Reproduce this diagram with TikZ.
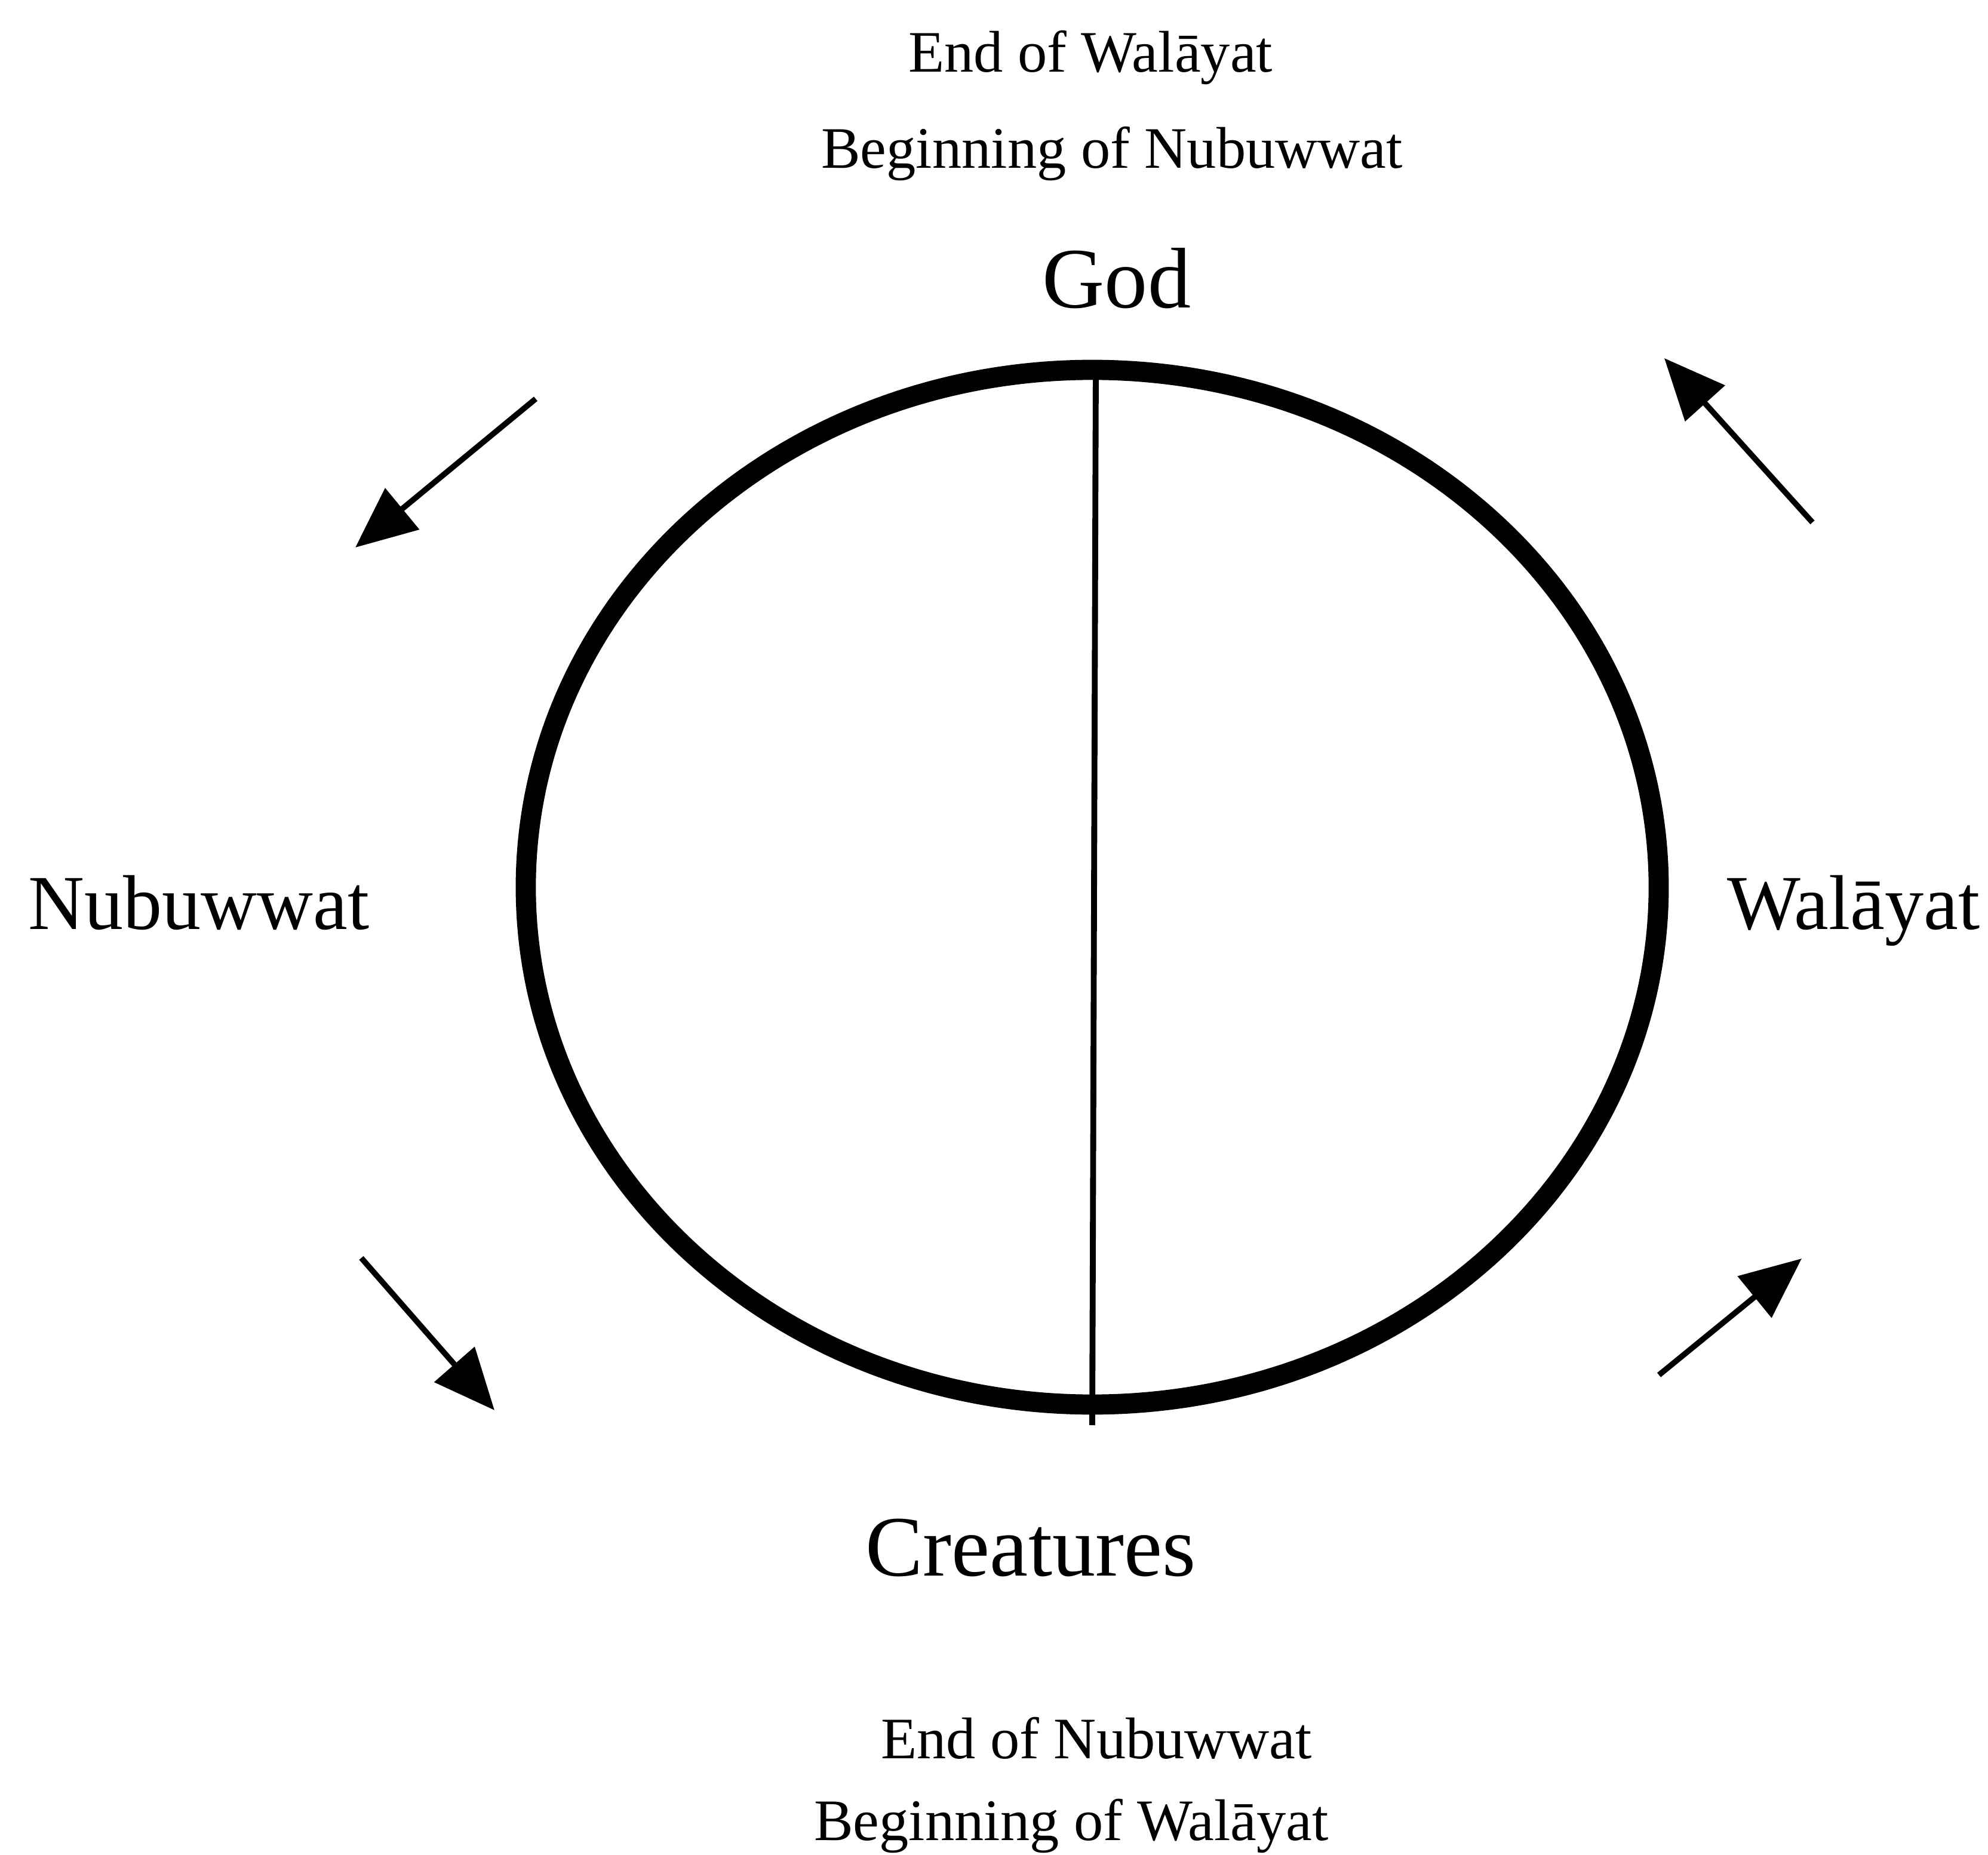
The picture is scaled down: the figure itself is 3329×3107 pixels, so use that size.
\documentclass[tikz,border=0pt]{standalone}
\usepackage{fontspec}
\setmainfont{Liberation Serif}
\usetikzlibrary{arrows.meta,shapes.geometric}
\tikzstyle{caption} = [
  font=\fontsize{28}{34}\selectfont,
  inner sep=0pt,
  anchor=base,
]
\tikzstyle{pole} = [
  font=\fontsize{41}{48}\selectfont,
  inner sep=0pt,
  anchor=base,
]
\tikzstyle{side} = [
  font=\fontsize{37}{44}\selectfont,
  inner sep=0pt,
  anchor=base,
]
\tikzstyle{ring} = [
  draw,
  ellipse,
  line width=9.6pt,
  inner sep=0pt,
  minimum width=18.96cm,
  minimum height=17.32cm,
]
\tikzstyle{divider} = [
  line width=2.8pt,
]
\tikzstyle{flow} = [
  line width=2.7pt,
  -{Triangle[length=29pt,width=25pt]},
]

\begin{document}
\begin{tikzpicture}[
    x=0.01cm,
    y=-0.01cm,
  ]
  \useasboundingbox (0,0) rectangle (3329,3107);
  \node[caption] (endwal) at (1826,121) {End of Walāyat};
  \node[caption] (begnub) at (1862,282) {Beginning of Nubuwwat};
  \node[pole] (god) at (1870,516) {God};
  \node[side] (nub) at (333,1556) {Nubuwwat};
  \node[side] (wal) at (3104,1556) {Walāyat};
  \node[pole] (creat) at (1726,2639) {Creatures};
  \node[caption] (endnub) at (1836,2945) {End of Nubuwwat};
  \node[caption] (begwal) at (1794,3082) {Beginning of Walāyat};
  % the circle and its diameter
  \node[ring] (ring) at (1829,1486) {};
  \coordinate (top) at (1835,620);
  \coordinate (bot) at (1829,2387);
  \draw[divider] (top) -- (bot);
  % arrows round the circle
  \coordinate (nwtail) at (897,668);
  \coordinate (nwhead) at (595,917);
  \coordinate (swtail) at (605,2107);
  \coordinate (swhead) at (828,2362);
  \coordinate (setail) at (2778,2303);
  \coordinate (sehead) at (3017,2108);
  \coordinate (netail) at (3035,875);
  \coordinate (nehead) at (2787,600);
  \draw[flow] (nwtail) -- (nwhead);
  \draw[flow] (swtail) -- (swhead);
  \draw[flow] (setail) -- (sehead);
  \draw[flow] (netail) -- (nehead);
\end{tikzpicture}
\end{document}
